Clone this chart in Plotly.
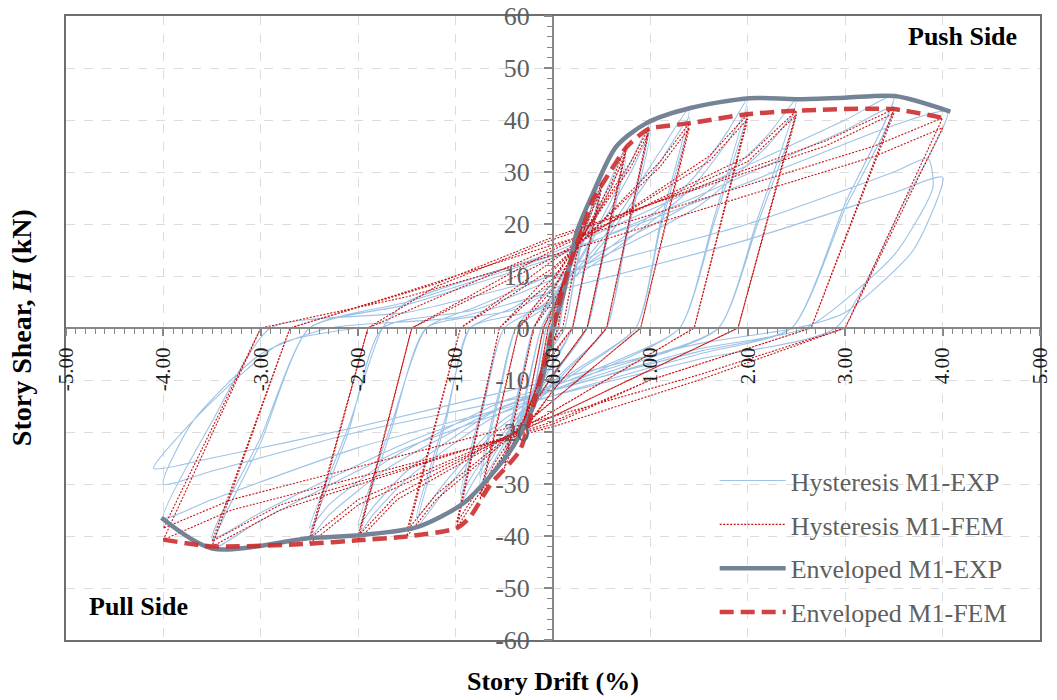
import plotly.graph_objects as go

# ---- Hysteresis M1-EXP: (story drift %, story shear kN) in loading order ----
exp_hysteresis = [
    (0, 0),
    (0.05, 4.5), (0.1, 8), (0.06, 3.5), (0.03, 0), (-0.05, -4), (-0.1, -7), (-0.06, -3), (-0.03, 0),
    (0.08, 6), (0.2, 16), (0.12, 7), (0.06, 0), (-0.08, -6), (-0.2, -14), (-0.13, -6), (-0.07, 0),
    (0.08, 7), (0.2, 15.5), (0.12, 6.5), (0.06, 0), (-0.08, -5.5), (-0.2, -13.5), (-0.13, -5.5), (-0.07, 0),
    (0.1, 7), (0.25, 17), (0.35, 23), (0.22, 10), (0.12, 0), (-0.05, -5), (-0.25, -15), (-0.35, -20), (-0.22, -8), (-0.12, 0),
    (0.1, 7.5), (0.25, 16), (0.35, 22), (0.22, 9.5), (0.12, 0), (-0.05, -5), (-0.25, -14), (-0.35, -19), (-0.22, -7.5), (-0.12, 0),
    (0.1, 8), (0.3, 18), (0.5, 29), (0.33, 13), (0.2, 0), (0, -7), (-0.3, -16), (-0.5, -25), (-0.33, -11), (-0.2, 0),
    (0.1, 8.5), (0.3, 17), (0.5, 27.5), (0.33, 12), (0.2, 0), (0, -6.5), (-0.3, -15), (-0.5, -24), (-0.33, -10), (-0.2, 0),
    (0.1, 9), (0.4, 20), (0.75, 35), (0.53, 16), (0.35, 0), (0.05, -8), (-0.4, -19), (-0.75, -30), (-0.55, -13), (-0.38, 0),
    (0.1, 10), (0.4, 19.5), (0.75, 33), (0.53, 15), (0.35, 0), (0.05, -7.5), (-0.4, -18), (-0.75, -28.5), (-0.55, -12), (-0.38, 0),
    (0, 5), (0.5, 21), (0.8, 32), (1.0, 39.5), (0.75, 18), (0.55, 0), (0.1, -9), (-0.5, -21), (-0.8, -29), (-0.95, -33.7), (-0.7, -14), (-0.5, 0),
    (0, 5.5), (0.5, 20), (0.8, 30), (1.0, 37.5), (0.75, 17), (0.55, 0), (0.1, -8.5), (-0.5, -20), (-0.8, -27.5), (-0.95, -32), (-0.7, -13), (-0.5, 0),
    (-0.1, 4.5), (0.5, 17), (1.1, 34), (1.4, 42.3), (1.1, 20), (0.85, 0), (0.2, -9), (-0.6, -20), (-1.1, -31), (-1.4, -38.2), (-1.1, -18), (-0.85, 0),
    (-0.1, 4), (0.5, 16), (1.1, 32), (1.4, 40.5), (1.1, 19), (0.85, 0), (0.2, -8.5), (-0.6, -19), (-1.1, -29.5), (-1.4, -36.5), (-1.1, -17), (-0.85, 0),
    (-0.4, 4), (0.4, 13), (1.4, 28), (1.8, 38), (2.0, 44.2), (1.65, 21), (1.3, 0), (0.5, -8), (-0.6, -17), (-1.5, -29), (-1.85, -36), (-2.0, -39.8), (-1.65, -19), (-1.3, 0),
    (-0.4, 3.5), (0.4, 12), (1.4, 26.5), (1.8, 36), (2.0, 42), (1.65, 20), (1.3, 0), (0.5, -7.5), (-0.6, -16), (-1.5, -27.5), (-1.85, -34.5), (-2.0, -38), (-1.65, -18), (-1.3, 0),
    (-0.8, 4), (0.2, 12), (1.5, 25), (2.2, 37), (2.5, 44), (2.1, 21), (1.7, 0), (0.8, -7), (-0.5, -15), (-1.7, -27), (-2.3, -36), (-2.5, -40.4), (-2.1, -20), (-1.75, 0),
    (-0.8, 3.5), (0.2, 11), (1.5, 23.5), (2.2, 35), (2.5, 41.5), (2.1, 20), (1.7, 0), (0.8, -6.5), (-0.5, -14), (-1.7, -25.5), (-2.3, -34), (-2.5, -38.5), (-2.1, -19), (-1.75, 0),
    (-1.5, 5), (0, 14.5), (1.5, 27), (3.0, 40), (3.5, 44.6), (3.0, 24), (2.45, 0), (1.5, -5), (0, -13), (-1.5, -23), (-3.0, -37), (-3.5, -42.4), (-3.0, -22), (-2.5, 0),
    (-1.5, 4.5), (0, 13.5), (1.5, 25.5), (3.0, 38), (3.5, 42.5), (3.0, 23), (2.45, 0), (1.5, -4.5), (0, -12), (-1.5, -22), (-3.0, -35.5), (-3.5, -40.5), (-3.0, -21), (-2.5, 0),
    (-1.5, 5), (0, 14), (2.0, 28), (3.5, 39), (4.05, 41.6), (3.6, 24), (2.9, 0), (1.5, -6), (0, -13), (-2.0, -23), (-3.5, -33), (-4.0, -36.5), (-3.5, -18), (-2.9, 0),
    (-1.5, 3), (0, 10), (2.0, 20), (3.5, 30), (3.85, 32.6), (3.9, 27), (3.5, 14), (2.6, 0), (1.5, -4), (0, -12), (-2.0, -20), (-3.5, -27.5), (-4.0, -30), (-3.7, -18), (-3.0, -5), (-2.3, 0),
    (-1.0, 2), (0, 7), (2.0, 17), (3.5, 26), (4.0, 29), (3.7, 15), (3.0, 3), (2.5, 0), (1.5, -3), (0, -10), (-2.0, -19), (-3.5, -25), (-4.1, -27), (-3.6, -16), (-2.8, -3), (-2.0, 0),
]

# ---- Hysteresis M1-FEM ----
fem_hysteresis = [
    (0, 0),
    (0.15, 12), (0.05, 0), (-0.15, -11), (-0.05, 0),
    (0.15, 11.5), (0.05, 0), (-0.15, -10.5), (-0.05, 0),
    (0.05, 5), (0.3, 20), (0.1, 0), (-0.05, -4), (-0.3, -19), (-0.1, 0),
    (0.05, 5.5), (0.3, 19.5), (0.1, 0), (-0.05, -4.5), (-0.3, -18.5), (-0.1, 0),
    (0.05, 6), (0.5, 28), (0.2, 0), (-0.05, -6), (-0.5, -27), (-0.2, 0),
    (0.05, 6.5), (0.5, 27), (0.2, 0), (-0.05, -6.5), (-0.5, -26), (-0.2, 0),
    (0, 7), (0.6, 28), (0.75, 35), (0.35, 0), (0, -9), (-0.6, -27), (-0.75, -33), (-0.35, 0),
    (0, 7.5), (0.6, 27), (0.75, 34), (0.35, 0), (0, -9), (-0.6, -26), (-0.75, -32), (-0.35, 0),
    (0, 9), (0.8, 32), (0.98, 38.3), (0.55, 0), (0, -12), (-0.8, -33), (-0.99, -38.5), (-0.55, 0),
    (0, 9.5), (0.8, 31), (0.98, 37.5), (0.55, 0), (0, -12), (-0.8, -32), (-0.99, -37.5), (-0.55, 0),
    (0, 11), (1.1, 32), (1.4, 39.4), (0.9, 0), (0, -14), (-1.2, -33), (-1.5, -40.1), (-0.95, 0),
    (0, 11.5), (1.1, 31), (1.4, 38.5), (0.9, 0), (0, -14), (-1.2, -32), (-1.5, -39), (-0.95, 0),
    (0, 13), (1.6, 33), (2.0, 41.1), (1.45, 0), (0, -16), (-1.6, -33), (-2.0, -40.8), (-1.45, 0),
    (0, 13.5), (1.6, 32), (2.0, 40.2), (1.45, 0), (0, -16), (-1.6, -32), (-2.0, -40), (-1.45, 0),
    (0, 15), (2.0, 33), (2.5, 41.8), (1.9, 0), (0, -17), (-2.0, -34), (-2.5, -41.5), (-1.9, 0),
    (0, 15.5), (2.0, 32), (2.5, 41), (1.9, 0), (0, -17), (-2.0, -33), (-2.5, -40.5), (-1.9, 0),
    (-1.2, 8), (0, 17), (2.8, 36), (3.5, 42.1), (2.65, 0), (1.0, -10), (0, -18), (-2.8, -35), (-3.5, -42), (-2.7, 0),
    (-1.2, 8.5), (0, 17.5), (2.8, 35), (3.5, 41.3), (2.65, 0), (1.0, -10), (0, -18.5), (-2.8, -34), (-3.5, -41), (-2.7, 0),
    (-1.5, 7), (0, 16), (3.3, 35), (4.0, 40.4), (3.0, 0), (1.5, -10), (0, -19), (-3.3, -35), (-4.0, -40.7), (-3.0, 0),
    (-1.5, 6), (0, 14), (3.3, 33), (4.0, 38.5), (3.0, 0), (1.5, -9), (0, -17), (-3.3, -33), (-4.0, -38.5), (-3.0, 0),
]

# ---- Backbone (envelope) curves ----
exp_env_drift = [-4.02, -3.5, -2.49, -1.96, -1.38, -0.92, -0.65, -0.41, -0.2, -0.1, 0.0,
                 0.1, 0.175, 0.24, 0.41, 0.65, 0.96, 1.41, 2.02, 2.5, 3.0, 3.51, 4.08]
exp_env_shear = [-36.5, -42.4, -40.4, -39.8, -38.2, -33.7, -28.6, -22.8, -15.0, -9.0, 0.0,
                 6.0, 12.4, 18.2, 25.9, 34.9, 39.4, 42.3, 44.2, 44.0, 44.3, 44.6, 41.6]

fem_env_drift = [-4.0, -3.5, -2.5, -2.0, -1.5, -0.99, -0.85, -0.65, -0.34, -0.15, 0.0,
                 0.15, 0.3, 0.41, 0.55, 0.76, 0.91, 1.0, 1.41, 1.99, 2.5, 3.49, 4.0]
fem_env_shear = [-40.7, -42.0, -41.5, -40.8, -40.1, -38.5, -36.3, -30.3, -23.5, -11.0, 0.0,
                 11.0, 19.0, 24.6, 29.0, 34.9, 37.4, 38.4, 39.4, 41.1, 41.8, 42.1, 40.4]

# ---- Axis ticks ----
drift_ticks = [-5, -4, -3, -2, -1, 0, 1, 2, 3, 4, 5]
drift_tick_text = ["-5.00", "-4.00", "-3.00", "-2.00", "-1.00", "0.00",
                   "1.00", "2.00", "3.00", "4.00", "5.00"]
shear_ticks = [-60, -50, -40, -30, -20, -10, 0, 10, 20, 30, 40, 50, 60]
shear_tick_text = ["-60", "-50", "-40", "-30", "-20", "-10", "0",
                   "10", "20", "30", "40", "50", "60"]

SERIF = "Liberation Serif"
AXIS_GRAY = "#878787"
FRAME_GRAY = "#6e6e6e"
GRID_GRAY = "#dcdcdc"

fig = go.Figure()

fig.add_trace(go.Scatter(
    x=[p[0] for p in exp_hysteresis], y=[p[1] for p in exp_hysteresis],
    mode="lines", name="Hysteresis M1-EXP", legendgroup="g1",
    line=dict(color="rgb(157,195,230)", width=1.1, shape="spline", smoothing=0.6),
))
fig.add_trace(go.Scatter(
    x=[p[0] for p in fem_hysteresis], y=[p[1] for p in fem_hysteresis],
    mode="lines", name="Hysteresis M1-FEM", legendgroup="g2",
    line=dict(color="rgb(200,20,20)", width=1.1, dash="2px,1.5px"),
))
fig.add_trace(go.Scatter(
    x=exp_env_drift, y=exp_env_shear,
    mode="lines", name="Enveloped M1-EXP", legendgroup="g3",
    line=dict(color="rgb(116,131,150)", width=4.5, shape="spline", smoothing=0.8),
))
fig.add_trace(go.Scatter(
    x=fem_env_drift, y=fem_env_shear,
    mode="lines", name="Enveloped M1-FEM", legendgroup="g4",
    line=dict(color="rgba(205,45,45,0.9)", width=4.5, dash="14px,7px",
              shape="spline", smoothing=0.6),
))

# Frame axes: box, dashed grid, no labels
fig.update_xaxes(range=[-5, 5], dtick=1, showgrid=True, gridcolor=GRID_GRAY,
                 griddash="dash", gridwidth=1, zeroline=False,
                 showline=True, linecolor=FRAME_GRAY, linewidth=2, mirror=True,
                 showticklabels=False, ticks="")
fig.update_yaxes(range=[-60, 60], dtick=10, showgrid=True, gridcolor=GRID_GRAY,
                 griddash="dash", gridwidth=1, zeroline=False,
                 showline=True, linecolor=FRAME_GRAY, linewidth=2, mirror=True,
                 showticklabels=False, ticks="")

fig.update_layout(
    # axes crossing at the origin (middle of both ranges)
    xaxis2=dict(overlaying="x", anchor="free", position=0.5, range=[-5, 5],
                showgrid=False, zeroline=False, showline=True,
                linecolor=AXIS_GRAY, linewidth=2,
                ticks="outside", ticklen=7, tickwidth=1.5, tickcolor=AXIS_GRAY,
                tickvals=drift_ticks, ticktext=drift_tick_text, tickangle=-90,
                ticklabelstandoff=3,
                tickfont=dict(family=SERIF, size=21, color="#1a1a1a"),
                minor=dict(ticks="outside", dtick=0.1, ticklen=5, tickwidth=1.3,
                           tickcolor=AXIS_GRAY, showgrid=False)),
    yaxis2=dict(overlaying="y", anchor="free", position=0.5, side="left",
                range=[-60, 60], showgrid=False, zeroline=False, showline=True,
                linecolor=AXIS_GRAY, linewidth=2,
                ticks="outside", ticklen=8, tickwidth=1.5, tickcolor=AXIS_GRAY,
                tickvals=shear_ticks, ticktext=shear_tick_text,
                ticklabelstandoff=9,
                tickfont=dict(family=SERIF, size=26, color="#5f5f5f"),
                minor=dict(ticks="outside", dtick=2, ticklen=5, tickwidth=1.3,
                           tickcolor=AXIS_GRAY, showgrid=False)),
)

# invisible carrier traces so the crossing axes are drawn
fig.add_trace(go.Scatter(x=[None], y=[None], xaxis="x2", yaxis="y2",
                         showlegend=False, hoverinfo="skip"))

fig.update_layout(
    width=1057, height=700,
    margin=dict(l=66, r=17, t=16, b=60, autoexpand=False),
    paper_bgcolor="white", plot_bgcolor="white",
    showlegend=True, hovermode=False,
    legend=dict(x=0.666, y=0.293, xanchor="left", yanchor="top",
                bgcolor="rgba(0,0,0,0)", borderwidth=0,
                traceorder="grouped", tracegroupgap=7, itemwidth=66,
                font=dict(family=SERIF, size=26, color="#5f5f5f")),
    font=dict(family=SERIF),
    annotations=[
        dict(text="<b>Push Side</b>", xref="paper", yref="paper", x=0.978, y=0.994,
             xanchor="right", yanchor="top", showarrow=False,
             font=dict(family=SERIF, size=26, color="black")),
        dict(text="<b>Pull Side</b>", xref="paper", yref="paper", x=0.022, y=0.027,
             xanchor="left", yanchor="bottom", showarrow=False,
             font=dict(family=SERIF, size=26, color="black")),
        dict(text="<b>Story Drift (%)</b>", xref="paper", yref="paper", x=0.5, y=-0.066,
             xanchor="center", yanchor="middle", showarrow=False,
             font=dict(family=SERIF, size=26, color="black")),
        dict(text="<b>Story Shear, <i>H</i> (kN)</b>", xref="paper", yref="paper",
             x=-0.046, y=0.5, xanchor="center", yanchor="middle", textangle=-90,
             showarrow=False, font=dict(family=SERIF, size=28, color="black")),
    ],
)

fig.write_html("out.html")
